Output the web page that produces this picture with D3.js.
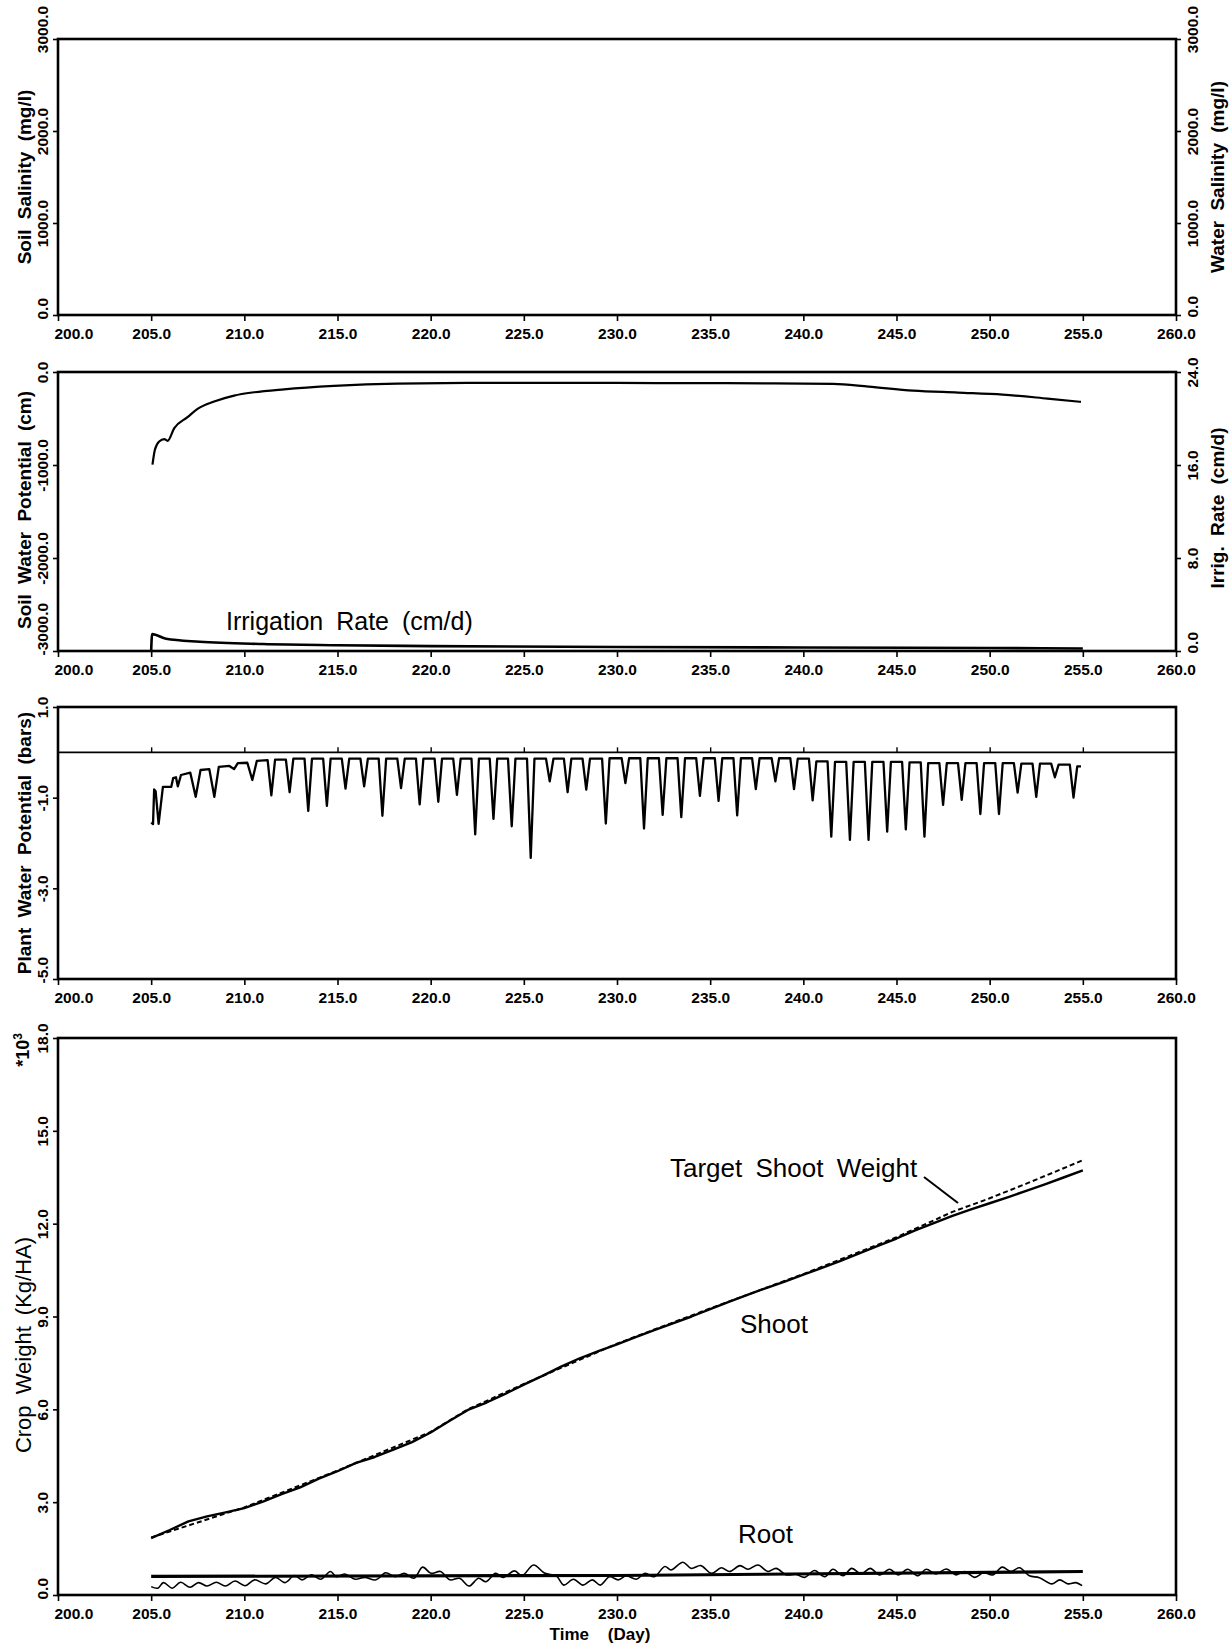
<!DOCTYPE html>
<html>
<head>
<meta charset="utf-8">
<script src="https://cdn.jsdelivr.net/npm/d3@7"></script>
<style>
  body { margin: 0; background: #fff; }
  text { font-family: "Liberation Sans", Arial, sans-serif; fill: #000; }
</style>
</head>
<body>
<div id="chart"></div>
<script>
// --- eixo x comum (dias) ---
const dayTicks = [200, 205, 210, 215, 220, 225, 230, 235, 240, 245, 250, 255, 260];
const innerTicks = [205, 210, 215, 220, 225, 230, 235, 240, 245, 250, 255];

// --- painel 1: salinidade (sem curvas) ---
const salinityTicks = [0, 1000, 2000, 3000];

// --- painel 2: potencial de agua no solo (cm) e taxa de irrigacao (cm/d) ---
const swpTicks = [-3000, -2000, -1000, 0];
const irrTicks = [0, 8, 16, 24];
const swpDays = [205.07, 205.2, 205.43, 205.7, 205.88, 206.24, 206.95, 207.49, 208.38, 209.45, 210.52, 212.13, 214.81, 218.2, 222, 226, 230, 234, 238, 241.6, 243.5, 245.9, 248.3, 250.7, 253.1, 254.9];
const swpVals = [-997, -836, -747, -722, -740, -604, -486, -397, -318, -254, -218, -186, -150, -125, -118, -118, -118, -120, -122, -128, -157, -200, -221, -243, -286, -321];
const irrDays = [205.0, 205.05, 205.8, 207.6, 211, 215, 220, 230, 240, 250, 255];
const irrVals = [0, 1.45, 1.05, 0.8, 0.6, 0.5, 0.42, 0.35, 0.3, 0.26, 0.22];

// --- painel 3: potencial de agua na planta (bars) ---
const pwpTicks = [-5, -3, -1, 1];
const pwpEarlyDays = [205.0, 205.1, 205.16, 205.24, 205.4, 205.63, 206.08, 206.18, 206.33, 206.43, 206.6, 207.1, 207.39, 207.65, 208.12, 208.39, 208.63, 209.2, 209.45, 209.65, 210.16, 210.43, 210.67];
const pwpEarlyVals = [-1.55, -1.58, -0.82, -0.86, -1.58, -0.76, -0.76, -0.57, -0.55, -0.75, -0.50, -0.45, -0.98, -0.39, -0.37, -0.98, -0.32, -0.30, -0.37, -0.24, -0.23, -0.61, -0.19];
const pwpDipDays = [211.45, 212.43, 213.43, 214.43, 215.43, 216.43, 217.41, 218.41, 219.41, 220.41, 221.41, 222.39, 223.37, 224.35, 225.37, 226.39, 227.35, 228.35, 229.4, 230.45, 231.45, 232.45, 233.45, 234.45, 235.45, 236.45, 237.45, 238.5, 239.5, 240.5, 241.5, 242.5, 243.5, 244.5, 245.5, 246.5, 247.5, 248.5, 249.5, 250.5, 251.5, 252.5, 253.5, 254.5];
const pwpDipMin = [-0.95, -0.88, -1.29, -1.18, -0.80, -0.75, -1.40, -0.79, -1.15, -1.09, -0.94, -1.81, -1.47, -1.63, -2.33, -0.64, -0.88, -0.82, -1.57, -0.68, -1.68, -1.38, -1.43, -0.96, -1.07, -1.39, -0.81, -0.64, -0.81, -1.06, -1.86, -1.93, -1.93, -1.75, -1.70, -1.86, -1.16, -1.05, -1.36, -1.36, -0.89, -0.98, -0.55, -1.00];
const pwpTop = [-0.17, -0.16, -0.14, -0.14, -0.14, -0.14, -0.14, -0.14, -0.14, -0.14, -0.14, -0.14, -0.14, -0.14, -0.14, -0.14, -0.14, -0.14, -0.14, -0.13, -0.13, -0.13, -0.13, -0.13, -0.13, -0.13, -0.13, -0.13, -0.13, -0.14, -0.20, -0.21, -0.21, -0.21, -0.21, -0.22, -0.24, -0.24, -0.24, -0.24, -0.24, -0.25, -0.25, -0.27];
const pwpEndDay = 254.9, pwpEndVal = -0.31;

// --- painel 4: peso da cultura (x10^3 Kg/HA) ---
const cropTicks = [0, 3, 6, 9, 12, 15, 18];
const shootDays = [205, 206, 207, 208, 209, 210, 211, 212, 213, 214, 215, 216, 217, 218, 219, 220, 221, 222, 223, 224, 225, 226, 227, 228, 229, 230, 231, 232, 233, 234, 235, 236, 237, 238, 239, 240, 241, 242, 243, 244, 245, 246, 247, 248, 249, 250, 251, 252, 253, 254, 255];
const shootVals = [1.84, 2.1, 2.38, 2.54, 2.67, 2.81, 3.02, 3.26, 3.48, 3.76, 4.0, 4.27, 4.46, 4.70, 4.94, 5.25, 5.62, 5.98, 6.22, 6.5, 6.8, 7.08, 7.38, 7.65, 7.88, 8.1, 8.33, 8.56, 8.78, 9.0, 9.24, 9.47, 9.7, 9.92, 10.13, 10.35, 10.57, 10.8, 11.04, 11.28, 11.52, 11.78, 12.02, 12.25, 12.46, 12.66, 12.86, 13.07, 13.28, 13.5, 13.72];
const targetDays = [205, 210, 215, 220, 222, 225, 230, 235, 240, 245, 248, 250, 252, 255];
const targetVals = [1.86, 2.83, 4.02, 5.27, 6.0, 6.82, 8.12, 9.26, 10.37, 11.56, 12.38, 12.82, 13.3, 14.05];
const rootTrendDays = [205, 230, 255];
const rootTrendVals = [0.6, 0.63, 0.76];
const rootDays = [205, 205.36, 205.66, 206.13, 206.58, 207.09, 207.54, 208.0, 208.5, 208.98, 209.5, 210.04, 210.55, 211.16, 211.67, 212.18, 212.69, 213.1, 213.6, 214.11, 214.62, 214.93, 215.38, 215.95, 216.46, 217.07, 217.58, 218.09, 218.59, 219.1, 219.57, 220.02, 220.53, 221.04, 221.55, 222.06, 222.57, 222.97, 223.48, 223.89, 224.5, 224.9, 225.52, 226.13, 226.74, 227.15, 227.66, 228.17, 228.68, 229.1, 229.6, 230.07, 230.5, 231.04, 231.5, 232.0, 232.57, 232.9, 233.54, 233.98, 234.5, 235.07, 235.6, 236.04, 236.6, 237.02, 237.57, 238.1, 238.54, 239.09, 239.6, 240.07, 240.6, 241.15, 241.59, 242.13, 242.6, 243.1, 243.59, 244.09, 244.63, 245.1, 245.6, 246.15, 246.59, 247.13, 247.67, 248.2, 248.65, 249.2, 249.67, 250.17, 250.67, 251.15, 251.6, 252.13, 252.67, 253.33, 253.76, 254.2, 254.63, 254.96];
const rootVals = [0.27, 0.22, 0.40, 0.22, 0.41, 0.25, 0.40, 0.29, 0.41, 0.29, 0.45, 0.30, 0.49, 0.36, 0.57, 0.40, 0.63, 0.49, 0.65, 0.51, 0.76, 0.59, 0.68, 0.51, 0.57, 0.49, 0.72, 0.59, 0.70, 0.54, 0.90, 0.70, 0.76, 0.49, 0.54, 0.29, 0.54, 0.43, 0.70, 0.57, 0.78, 0.62, 0.97, 0.70, 0.62, 0.32, 0.51, 0.32, 0.49, 0.32, 0.59, 0.49, 0.62, 0.51, 0.70, 0.59, 0.92, 0.81, 1.06, 0.86, 0.95, 0.70, 0.88, 0.76, 0.95, 0.83, 0.97, 0.76, 0.86, 0.65, 0.67, 0.57, 0.79, 0.59, 0.83, 0.62, 0.86, 0.68, 0.86, 0.65, 0.83, 0.65, 0.83, 0.62, 0.83, 0.68, 0.84, 0.65, 0.76, 0.57, 0.72, 0.65, 0.90, 0.76, 0.88, 0.62, 0.56, 0.36, 0.49, 0.36, 0.40, 0.30];

// ------------------------------------------------------------------
const W = 1231, H = 1647;
const left = 58, right = 1176;
const fmt1 = d => d.toFixed(1);

const svg = d3.select("#chart").append("svg")
    .attr("width", W)
    .attr("height", H);

const x = d3.scaleLinear().domain([200, 260]).range([left, right]);

// Funcao para montar um painel com moldura, eixo x e eixo y
function makePanel(top, bottom, yDomain, yTicks, liftTop) {
    const y = d3.scaleLinear().domain(yDomain).range([bottom, top]);
    const g = svg.append("g");

    // eixo x (o primeiro rotulo comeca no tique, como no original)
    const ax = g.append("g")
        .attr("transform", `translate(0,${bottom})`)
        .call(d3.axisBottom(x).tickValues(dayTicks).tickFormat(fmt1).tickSize(6).tickPadding(7).tickSizeOuter(0));
    ax.select(".domain").remove();
    ax.selectAll("line").attr("stroke-width", 1.6);
    ax.selectAll("text")
        .attr("font-size", "15.5px").attr("font-weight", "bold")
        .attr("text-anchor", d => d === dayTicks[0] ? "start" : "middle")
        .attr("x", d => d === dayTicks[0] ? -4 : 0);

    // eixo y esquerdo (rotulos girados); o de baixo termina junto ao eixo
    const ay = g.append("g")
        .attr("transform", `translate(${left},0)`)
        .call(d3.axisLeft(y).tickValues(yTicks).tickFormat(fmt1).tickSize(5).tickSizeOuter(0));
    ay.select(".domain").remove();
    ay.selectAll("line").attr("stroke-width", 1.6);
    ay.selectAll("text")
        .attr("transform", "rotate(-90)")
        .attr("text-anchor", d => d === yDomain[0] ? "start" : "middle")
        .attr("x", d => d === yDomain[0] ? -4 : (liftTop && d === yDomain[1] ? 10 : 0))
        .attr("y", -10).attr("dy", 0)
        .attr("font-size", "15.5px").attr("font-weight", "bold");

    // moldura
    g.append("rect")
        .attr("x", left).attr("y", top)
        .attr("width", right - left).attr("height", bottom - top)
        .attr("fill", "none").attr("stroke", "#000").attr("stroke-width", 2.6);

    return { g, y, top, bottom };
}

function rightAxis(p, scale, ticks, liftTop) {
    const ar = p.g.append("g")
        .attr("transform", `translate(${right},0)`)
        .call(d3.axisRight(scale).tickValues(ticks).tickFormat(fmt1).tickSize(5).tickSizeOuter(0));
    ar.select(".domain").remove();
    ar.selectAll("line").attr("stroke-width", 1.6);
    ar.selectAll("text")
        .attr("transform", "rotate(-90)")
        .attr("text-anchor", (d, i) => i === 0 ? "start" : "middle")
        .attr("x", (d, i) => i === 0 ? -2 : (liftTop && i === ticks.length - 1 ? 10 : 0))
        .attr("y", 22).attr("dy", 0)
        .attr("font-size", "15.5px").attr("font-weight", "bold");
}

function yTitle(xPos, yMid, label, weight, size) {
    svg.append("text")
        .attr("transform", `translate(${xPos},${yMid}) rotate(-90)`)
        .attr("text-anchor", "middle")
        .attr("font-size", size || "19px")
        .attr("font-weight", weight || "bold")
        .attr("word-spacing", "5px")
        .text(label);
}

function drawLine(p, days, vals, scale, width, opts) {
    opts = opts || {};
    const pts = days.map((d, i) => [d, vals[i]]);
    p.g.append("path")
        .datum(pts)
        .attr("fill", "none")
        .attr("stroke", "#000")
        .attr("stroke-width", width)
        .attr("stroke-linejoin", "round")
        .attr("stroke-dasharray", opts.dash || null)
        .attr("d", d3.line().curve(opts.curve || d3.curveLinear).x(d => x(d[0])).y(d => scale(d[1])));
}

// Painel 1 - salinidade
const p1 = makePanel(39, 315, [0, 3000], salinityTicks, true);
rightAxis(p1, p1.y, salinityTicks, true);
yTitle(31, 177, "Soil Salinity (mg/l)");
yTitle(1224, 177, "Water Salinity (mg/l)");

// Painel 2 - potencial no solo e irrigacao
const p2 = makePanel(372, 651, [-3000, 0], swpTicks);
const yIrr = d3.scaleLinear().domain([0, 24]).range([651, 372]);
rightAxis(p2, yIrr, irrTicks);
yTitle(31, 510, "Soil Water Potential (cm)");
yTitle(1224, 508, "Irrig. Rate (cm/d)");
drawLine(p2, swpDays, swpVals, p2.y, 2.2, { curve: d3.curveMonotoneX });
drawLine(p2, irrDays, irrVals, yIrr, 2.6, { curve: d3.curveMonotoneX });
p2.g.append("text")
    .attr("x", 226).attr("y", 630)
    .attr("font-size", "25px")
    .attr("word-spacing", "6px")
    .text("Irrigation Rate (cm/d)");

// Painel 3 - potencial na planta
const p3 = makePanel(707, 979, [-5, 1], pwpTicks);
yTitle(31, 843, "Plant Water Potential (bars)");
const zeroAx = p3.g.append("g")
    .attr("transform", `translate(0,${p3.y(0)})`)
    .call(d3.axisTop(x).tickValues(innerTicks).tickFormat("").tickSize(5).tickSizeOuter(0));
zeroAx.select(".domain").attr("d", `M${left},0H${right}`).attr("stroke-width", 1.6);
zeroAx.selectAll("line").attr("stroke-width", 1.4);

const dipHalf = 0.2;
const pwpD = pwpEarlyDays.slice(), pwpV = pwpEarlyVals.slice();
pwpDipDays.forEach((d, i) => {
    const nextTop = i < pwpTop.length - 1 ? pwpTop[i + 1] : pwpEndVal;
    pwpD.push(d - dipHalf, d, Math.min(d + dipHalf, pwpEndDay));
    pwpV.push(pwpTop[i], pwpDipMin[i], nextTop);
});
pwpD.push(pwpEndDay);
pwpV.push(pwpEndVal);
drawLine(p3, pwpD, pwpV, p3.y, 2.3);

// Painel 4 - peso da cultura
const p4 = makePanel(1038, 1595, [0, 18], cropTicks);
yTitle(31, 1345, "Crop Weight (Kg/HA)", "normal", "22px");
svg.append("text")
    .attr("transform", "translate(29,1050) rotate(-90)")
    .attr("text-anchor", "middle")
    .attr("font-size", "18px").attr("font-weight", "bold")
    .html('*10<tspan dy="-7" font-size="12px">3</tspan>');

drawLine(p4, targetDays, targetVals, p4.y, 2, { dash: "5,3" });
drawLine(p4, shootDays, shootVals, p4.y, 2.4);
drawLine(p4, rootTrendDays, rootTrendVals, p4.y, 3.2);
drawLine(p4, rootDays, rootVals, p4.y, 1.6, { curve: d3.curveCatmullRom });

p4.g.append("text").attr("x", 670).attr("y", 1177).attr("font-size", "26px")
    .attr("word-spacing", "6px").text("Target Shoot Weight");
p4.g.append("line")
    .attr("x1", 924).attr("y1", 1177).attr("x2", 958).attr("y2", 1203)
    .attr("stroke", "#000").attr("stroke-width", 2);
p4.g.append("text").attr("x", 740).attr("y", 1333).attr("font-size", "26px").text("Shoot");
p4.g.append("text").attr("x", 738).attr("y", 1543).attr("font-size", "26px").text("Root");

svg.append("text")
    .attr("x", 600).attr("y", 1640)
    .attr("text-anchor", "middle")
    .attr("font-size", "17px").attr("font-weight", "bold")
    .attr("xml:space", "preserve")
    .text("Time    (Day)");
</script>
</body>
</html>
